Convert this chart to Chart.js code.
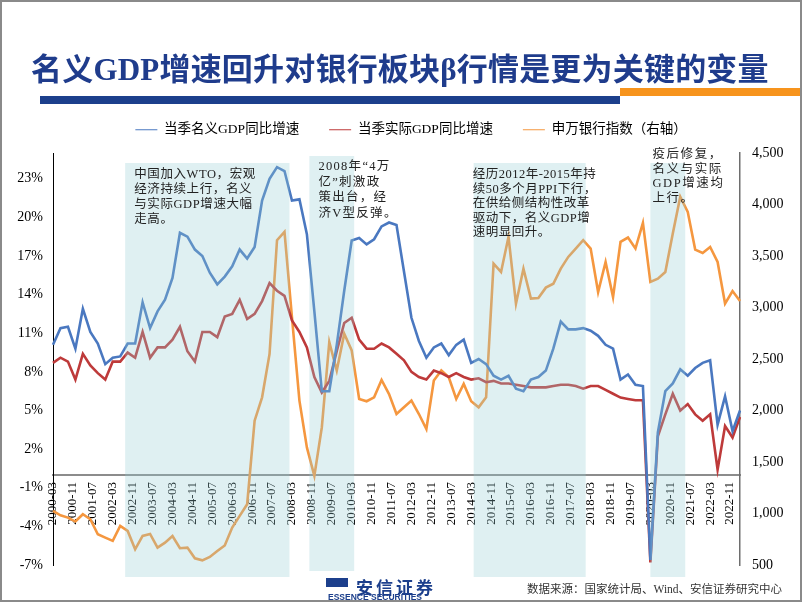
<!DOCTYPE html>
<html><head><meta charset="utf-8">
<script src="https://cdn.jsdelivr.net/npm/chart.js@4.4.1/dist/chart.umd.min.js"></script>
<style>
html,body{margin:0;padding:0;background:#fff;}
#page{position:relative;width:802px;height:602px;overflow:hidden;background:#fff;}
#frame{position:absolute;left:0;top:0;width:802px;height:602px;box-sizing:border-box;border:2px solid #8a8a8a;pointer-events:none;z-index:5}
#title{position:absolute;left:31px;top:53px;font-family:"Liberation Serif","Noto Sans CJK SC",serif;font-size:31px;line-height:34px;color:#1f3c8c;white-space:nowrap;font-weight:bold;letter-spacing:0.2px}
#barBlue{position:absolute;left:40px;top:96px;width:580px;height:8px;background:#1c3f8c}
#barOrange{position:absolute;left:620px;top:88px;width:182px;height:8px;background:#f7941d}
canvas{position:absolute;left:0;top:0}
#source{position:absolute;left:527px;top:580px;font-size:11.5px;font-family:"Liberation Serif","Noto Sans CJK SC",serif;color:#333;white-space:nowrap}
#logoIcon{position:absolute;left:326px;top:578px;width:22px;height:9px;background:#1c3f8c}
#logoText{position:absolute;left:356px;top:574px;font-family:"Noto Sans CJK SC",sans-serif;font-weight:bold;font-size:17px;color:#1c3f8c;letter-spacing:3px;white-space:nowrap}
#logoEn{position:absolute;left:328px;top:592px;font-family:"Liberation Sans",sans-serif;font-weight:bold;font-size:8.5px;color:#1c3f8c;white-space:nowrap}
</style></head>
<body><div id="page">
<canvas id="c" width="802" height="602"></canvas>
<div id="title">名义GDP增速回升对银行板块β行情是更为关键的变量</div>
<div id="barBlue"></div><div id="barOrange"></div>
<div id="logoIcon"></div><div id="logoText">安信证券</div><div id="logoEn">ESSENCE SECURITIES</div>
<div id="source">数据来源：国家统计局、Wind、安信证券研究中心</div>
<div id="frame"></div>
</div>
<script>
// ---- categories (monthly axis 2000-03 .. 2023-03, data quarterly) ----
const months = [];
for (let y = 2000; y <= 2023; y++) for (let m = 1; m <= 12; m++) {
  if (y === 2000 && m < 3) continue;
  if (y === 2023 && m > 3) break;
  months.push(y + '-' + String(m).padStart(2, '0'));
}
const quarters = months.filter((_, i) => i % 3 === 0);

const tickLabels = ['2000-03','2000-11','2001-07','2002-03','2002-11','2003-07','2004-03','2004-11','2005-07','2006-03','2006-11','2007-07','2008-03','2008-11','2009-07','2010-03','2010-11','2011-07','2012-03','2012-11','2013-07','2014-03','2014-11','2015-07','2016-03','2016-11','2017-07','2018-03','2018-11','2019-07','2020-03','2020-11','2021-07','2022-03','2022-11'];
const leftTicks = [-7,-4,-1,2,5,8,11,14,17,20,23];
const rightTicks = [500,1000,1500,2000,2500,3000,3500,4000,4500];

// ---- series (quarterly, 2000-03 .. 2023-03) ----
const nominalGDP = [10.1,11.4,11.5,9.8,12.9,11.1,10.2,8.6,9.1,9.2,10.2,10.2,13.4,11.4,12.7,13.6,15.3,18.8,18.5,17.5,17.0,15.7,14.8,15.4,16.2,17.5,16.8,17.7,21.3,23.0,23.9,23.6,21.3,21.4,18.7,12.7,6.5,6.5,10.1,14.3,18.2,18.4,17.9,18.3,19.3,19.6,19.4,15.8,12.2,10.4,9.1,9.9,10.2,9.3,10.1,10.5,8.7,9.0,8.6,7.7,7.4,7.7,6.7,6.5,7.4,7.6,8.1,9.8,11.9,11.3,11.3,11.4,11.2,10.8,10.1,9.8,7.4,7.8,7.0,6.9,-6.6,3.3,6.5,7.1,8.2,7.7,8.3,8.7,8.9,3.9,6.1,3.4,5.0];
const realGDP = [8.7,9.1,8.8,7.4,9.4,8.5,7.9,7.4,8.8,8.8,9.5,9.1,11.1,9.1,9.9,9.9,10.5,11.5,9.6,8.8,11.1,11.1,10.7,12.3,12.5,13.6,12.1,12.5,13.5,14.9,14.3,13.9,12.0,11.1,9.9,7.6,6.4,7.3,9.6,11.8,12.2,10.5,9.8,9.8,10.2,9.9,9.4,8.9,8.0,7.6,7.4,8.1,7.9,7.6,7.9,7.6,7.4,7.5,7.2,7.3,7.1,7.1,7.0,6.9,6.8,6.8,6.8,6.9,7.0,7.0,6.9,6.7,6.9,6.9,6.6,6.3,6.0,5.9,5.8,5.8,-6.8,3.0,4.7,6.3,5.0,5.5,4.7,4.2,4.7,0.4,3.8,2.9,4.5];
const bankIndex = [1025,983,960,922,993,944,798,766,734,880,831,652,782,801,669,717,782,663,669,565,545,578,636,690,863,977,1090,1901,2128,2550,3653,3734,2907,2096,1642,1366,1836,2664,2388,2745,2583,2112,2090,2128,2297,2160,1966,2031,2096,1966,1820,2291,2388,2323,2112,2258,2090,2031,2128,3426,3345,3686,3037,3377,3086,3092,3193,3231,3377,3491,3572,3653,3572,3150,3442,3101,3637,3679,3572,3822,3248,3280,3345,3718,4075,3929,3562,3530,3588,3442,3037,3160,3063];

const seriesNames = ['当季名义GDP同比增速','当季实际GDP同比增速','申万银行指数（右轴）'];

// ---- annotation boxes (semi-transparent) and their texts ----
const shades = [
  {from:'2002-08', to:'2008-02', top:10, bottom:12},
  {from:'2008-10', to:'2010-04', top:3,  bottom:6},
  {from:'2014-04', to:'2018-01', top:10, bottom:12},
  {from:'2020-03', to:'2021-05', top:10, bottom:12}
];
const notes = [
  {anchor:'2002-08', dx:9,  y:22, lh:15,   ls:0.6, lines:['中国加入WTO，宏观','经济持续上行，名义','与实际GDP增速大幅','走高。']},
  {anchor:'2008-10', dx:9,  y:14, lh:15.5, ls:1.3, lines:['2008年“4万','亿”刺激政','策出台，经','济V型反弹。']},
  {anchor:'2014-04', dx:-1, y:22, lh:14.5, ls:0.5, lines:['经历2012年-2015年持','续50多个月PPI下行，','在供给侧结构性改革','驱动下，名义GDP增','速明显回升。']},
  {anchor:'2020-03', dx:2,  y:2,  lh:14.5, ls:1.6, lines:['疫后修复，','名义与实际','GDP增速均','上行。']}
];

const FONT = '"Liberation Serif", "Noto Sans CJK SC", serif';
Chart.defaults.font.family = FONT;
Chart.defaults.color = '#000';

const notesPlugin = {
  id: 'notes',
  beforeInit(chart) {
    const lg = chart.legend;
    if (lg) { const f = lg.fit.bind(lg); lg.fit = function(){ f(); this.height = 60; }; }
  },
  afterLayout(chart) {
    const lg = chart.legend;
    if (lg) { lg.left += 10; lg.right += 10; }
  },
  afterDatasetsDraw(chart) {
    const {ctx, chartArea: a, scales: {x}} = chart;
    ctx.save();
    ctx.fillStyle = 'rgba(150,205,212,0.3)';
    shades.forEach(s => {
      const x0 = x.getPixelForValue(months.indexOf(s.from));
      const x1 = x.getPixelForValue(months.indexOf(s.to));
      const y0 = a.top + s.top, y1 = a.bottom + s.bottom;
      ctx.fillRect(x0, y0, x1 - x0, y1 - y0);
    });
    ctx.fillStyle = '#222';
    ctx.textBaseline = 'middle';
    ctx.textAlign = 'left';
    ctx.font = '12.5px ' + FONT;
    notes.forEach(n => {
      const x0 = x.getPixelForValue(months.indexOf(n.anchor)) + n.dx;
      ctx.letterSpacing = n.ls + 'px';
      n.lines.forEach((t, i) => ctx.fillText(t, x0, a.top + n.y + i * n.lh));
    });
    ctx.restore();
  }
};

const mk = (vals) => quarters.map((q, i) => ({x: q, y: vals[i]}));

new Chart(document.getElementById('c'), {
  type: 'line',
  data: {
    labels: months,
    datasets: [
      {label: seriesNames[0], data: mk(nominalGDP), borderColor: '#4a78c0', backgroundColor: '#4a78c0', yAxisID: 'y'},
      {label: seriesNames[1], data: mk(realGDP), borderColor: '#be3a3a', backgroundColor: '#be3a3a', yAxisID: 'y'},
      {label: seriesNames[2], data: mk(bankIndex), borderColor: '#f5973f', backgroundColor: '#f5973f', yAxisID: 'y1'}
    ]
  },
  options: {
    responsive: false,
    animation: false,
    events: [],
    layout: {padding: {top: 93, bottom: 37, left: 0, right: 0}},
    elements: {point: {radius: 0}, line: {borderWidth: 2.6, tension: 0}},
    plugins: {
      tooltip: {enabled: false},
      legend: {
        position: 'top',
        labels: {usePointStyle: true, pointStyle: 'line', pointStyleWidth: 22, boxHeight: 13, padding: 30,
                 font: {size: 13.5}, color: '#000'}
      }
    },
    scales: {
      x: {
        type: 'category', axis: 'x', position: {y: 0},
        grid: {display: false, drawTicks: false},
        border: {display: true, color: '#8c8c8c', width: 2},
        afterBuildTicks: s => { s.ticks = s.ticks.filter(t => tickLabels.includes(months[t.value])); },
        ticks: {autoSkip: false, minRotation: 90, maxRotation: 90, padding: 7, font: {size: 13}, color: '#000'}
      },
      y: {
        type: 'linear', position: 'left', min: -7, max: 25,
        afterBuildTicks: s => { s.ticks = leftTicks.map(v => ({value: v})); },
        afterFit: s => { s.width = 53; },
        grid: {display: false, drawTicks: false},
        border: {display: true, color: '#000', width: 1},
        ticks: {padding: 10, font: {size: 14}, color: '#000', callback: v => v + '%'}
      },
      y1: {
        type: 'linear', position: 'right', min: 500, max: 4500,
        afterBuildTicks: s => { s.ticks = rightTicks.map(v => ({value: v})); },
        afterFit: s => { s.width = 62; },
        grid: {display: false, drawTicks: false},
        border: {display: true, color: '#6e6e6e', width: 1.5},
        ticks: {padding: 12, font: {size: 14}, color: '#000', callback: v => v.toLocaleString('en-US')}
      }
    }
  },
  plugins: [notesPlugin]
});
</script>
</body></html>
